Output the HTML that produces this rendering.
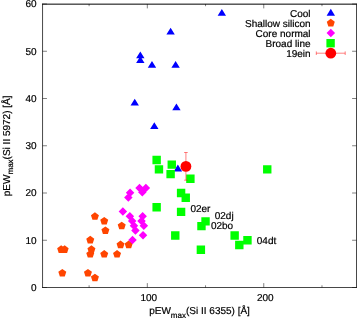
<!DOCTYPE html><html><head><meta charset="utf-8"><style>html,body{margin:0;padding:0;background:#fff}svg{display:block;will-change:transform}text{font-family:"Liberation Sans",sans-serif;font-size:10px;fill:#000;text-rendering:geometricPrecision;stroke:#000;stroke-width:0.2px}</style></head><body>
<svg width="357" height="318" viewBox="0 0 357 318">
<rect width="357" height="318" fill="#fff"/>
<path d="M42.55,287.50h4.4M356.5,287.50h-4.4M42.55,240.25h4.4M356.5,240.25h-4.4M42.55,193.00h4.4M356.5,193.00h-4.4M42.55,145.75h4.4M356.5,145.75h-4.4M42.55,98.50h4.4M356.5,98.50h-4.4M42.55,51.25h4.4M356.5,51.25h-4.4M42.55,4.00h4.4M356.5,4.00h-4.4M147.32,287.5v-4.4M147.32,4.0v4.4M263.76,287.5v-4.4M263.76,4.0v4.4M89.10,287.5v-2.2M89.10,4.0v2.2M205.54,287.5v-2.2M205.54,4.0v2.2M321.98,287.5v-2.2M321.98,4.0v2.2" stroke="#000" stroke-width="0.5" fill="none"/>
<path fill="#0000ff" d="M217.64,15.72L226.04,15.72L221.84,8.92ZM166.41,34.62L174.81,34.62L170.61,27.82ZM136.13,58.24L144.53,58.24L140.33,51.44ZM136.13,62.97L144.53,62.97L140.33,56.17ZM147.78,67.69L156.18,67.69L151.98,60.89ZM171.41,67.69L179.81,67.69L175.61,60.89ZM130.54,105.49L138.94,105.49L134.74,98.69ZM172.23,110.22L180.63,110.22L176.43,103.42ZM150.11,129.12L158.51,129.12L154.31,122.32ZM173.69,171.41L182.09,171.41L177.89,164.61Z"/>
<path fill="#ff4500" d="M94.92,212.23L98.92,215.13L97.39,219.82L92.45,219.82L90.93,215.13ZM104.24,216.95L108.23,219.85L106.71,224.55L101.77,224.55L100.24,219.85ZM105.40,226.40L109.40,229.30L107.87,234.00L102.93,234.00L101.41,229.30ZM121.70,221.68L125.70,224.58L124.17,229.27L119.23,229.27L117.71,224.58ZM90.26,235.85L94.26,238.75L92.73,243.45L87.80,243.45L86.27,238.75ZM61.15,245.30L65.15,248.20L63.62,252.90L58.69,252.90L57.16,248.20ZM64.65,245.30L68.64,248.20L67.12,252.90L62.18,252.90L60.65,248.20ZM91.43,245.30L95.42,248.20L93.90,252.90L88.96,252.90L87.43,248.20ZM90.26,250.03L94.26,252.93L92.73,257.62L87.80,257.62L86.27,252.93ZM104.24,250.03L108.23,252.93L106.71,257.62L101.77,257.62L100.24,252.93ZM117.05,250.03L121.04,252.93L119.51,257.62L114.58,257.62L113.05,252.93ZM120.54,240.58L124.53,243.48L123.01,248.17L118.07,248.17L116.54,243.48ZM128.69,240.58L132.68,243.48L131.16,248.17L126.22,248.17L124.70,243.48ZM62.32,268.93L66.31,271.83L64.79,276.52L59.85,276.52L58.32,271.83ZM87.94,268.93L91.93,271.83L90.40,276.52L85.47,276.52L83.94,271.83ZM94.92,273.65L98.92,276.55L97.39,281.25L92.45,281.25L90.93,276.55Z"/>
<path fill="#ff00ff" d="M135.27,187.97L139.52,183.72L143.77,187.97L139.52,192.22ZM141.61,187.97L145.86,183.72L150.11,187.97L145.86,192.22ZM138.06,192.23L142.31,187.98L146.56,192.23L142.31,196.48ZM125.84,192.70L130.09,188.45L134.34,192.70L130.09,196.95ZM124.09,197.42L128.34,193.17L132.59,197.42L128.34,201.67ZM118.62,211.60L122.87,207.35L127.12,211.60L122.87,215.85ZM125.60,216.32L129.85,212.07L134.10,216.32L129.85,220.57ZM138.41,216.32L142.66,212.07L146.91,216.32L142.66,220.57ZM127.93,221.05L132.18,216.80L136.43,221.05L132.18,225.30ZM137.25,221.05L141.50,216.80L145.75,221.05L141.50,225.30ZM129.68,225.77L133.93,221.52L138.18,225.77L133.93,230.02ZM139.58,225.77L143.83,221.52L148.08,225.77L143.83,230.02ZM131.19,230.50L135.44,226.25L139.69,230.50L135.44,234.75ZM138.76,235.22L143.01,230.97L147.26,235.22L143.01,239.47ZM128.28,239.95L132.53,235.70L136.78,239.95L132.53,244.20Z"/>
<path fill="#00ff00" d="M152.44,155.73h8.4v8.4h-8.4ZM154.76,165.18h8.4v8.4h-8.4ZM167.57,160.45h8.4v8.4h-8.4ZM166.41,169.90h8.4v8.4h-8.4ZM186.20,174.62h8.4v8.4h-8.4ZM176.89,188.80h8.4v8.4h-8.4ZM181.55,193.53h8.4v8.4h-8.4ZM152.44,202.98h8.4v8.4h-8.4ZM176.89,207.70h8.4v8.4h-8.4ZM201.34,217.15h8.4v8.4h-8.4ZM197.26,221.88h8.4v8.4h-8.4ZM196.68,245.50h8.4v8.4h-8.4ZM230.45,231.33h8.4v8.4h-8.4ZM235.11,240.78h8.4v8.4h-8.4ZM243.26,236.05h8.4v8.4h-8.4ZM171.07,231.33h8.4v8.4h-8.4ZM263.05,165.18h8.4v8.4h-8.4Z"/>
<path d="M185.92,152.5V180.2M184.12,152.5h3.6M184.12,180.2h3.6" stroke="#ff0000" stroke-width="0.5" fill="none"/>
<circle cx="185.92" cy="166.40" r="5.4" fill="#ff0000"/>
<path d="M42.55,3.65V287.87M356.5,3.65V287.87M42.199999999999996,287.5H356.85" fill="none" stroke="#000" stroke-width="0.72"/>
<path d="M42.199999999999996,4.15H356.85" fill="none" stroke="#000" stroke-width="1"/>
<text x="310.6" y="16.55" text-anchor="end">Cool</text>
<text x="310.6" y="26.77" text-anchor="end">Shallow silicon</text>
<text x="310.6" y="36.99" text-anchor="end">Core normal</text>
<text x="310.6" y="47.21" text-anchor="end">Broad line</text>
<text x="310.6" y="57.43" text-anchor="end">19ein</text>
<path fill="#0000ff" d="M326.60,15.67L335.00,15.67L330.80,8.87Z"/>
<path fill="#ff4500" d="M330.80,18.80L334.79,21.70L333.27,26.40L328.33,26.40L326.81,21.70Z"/>
<path fill="#ff00ff" d="M326.55,33.10L330.80,28.85L335.05,33.10L330.80,37.35Z"/>
<path fill="#00ff00" d="M326.40,39.00h8.4v8.4h-8.4Z"/>
<path d="M316.3,53.2H345.2M316.3,51.4v3.6M345.2,51.4v3.6" stroke="#ff0000" stroke-width="0.5" fill="none"/>
<circle cx="330.8" cy="53.2" r="5.4" fill="#ff0000"/>
<text x="36.6" y="290.85" text-anchor="end">0</text>
<text x="36.6" y="243.60" text-anchor="end">10</text>
<text x="36.6" y="196.35" text-anchor="end">20</text>
<text x="36.6" y="149.10" text-anchor="end">30</text>
<text x="36.6" y="101.85" text-anchor="end">40</text>
<text x="36.6" y="54.60" text-anchor="end">50</text>
<text x="36.6" y="7.35" text-anchor="end">60</text>
<text x="148.82" y="301.4" text-anchor="middle">100</text>
<text x="265.26" y="301.4" text-anchor="middle">200</text>
<text x="190.4" y="211.7">02er</text>
<text x="214.75" y="219.3">02dj</text>
<text x="210.95" y="228.6">02bo</text>
<text x="256.8" y="243.7">04dt</text>
<text x="149.2" y="313.8" font-size="10.07">pEW<tspan font-size="8" dy="3.7">max</tspan><tspan dy="-3.7">(Si II 6355) [Å]</tspan></text>
<text transform="translate(9.75,196.2) rotate(-90)" font-size="10.12">pEW<tspan font-size="8" dy="3.7">max</tspan><tspan dy="-3.7">(Si II 5972) [Å]</tspan></text>
</svg></body></html>
